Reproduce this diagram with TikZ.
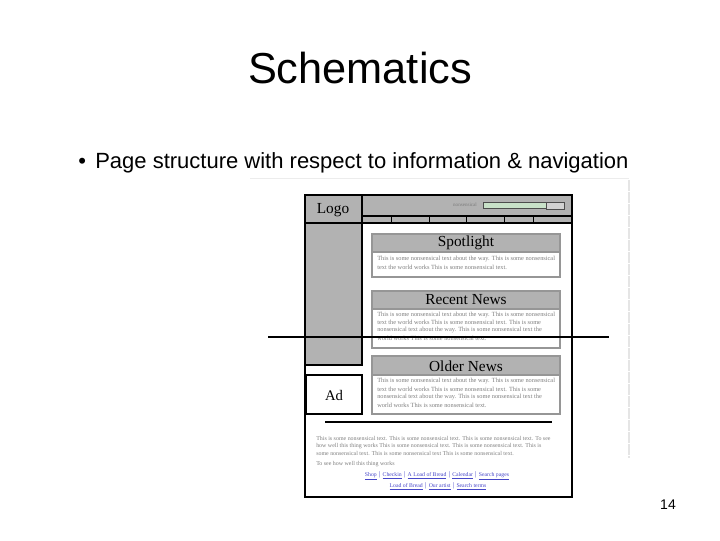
\documentclass[tikz,border=0pt]{standalone}
\usepackage{fontspec}
\setmainfont{Liberation Serif}
\newfontfamily\arialf{Liberation Sans}
\definecolor{hdrgray}{RGB}{178,178,178}
\definecolor{boxedge}{RGB}{150,150,150}
\definecolor{nons}{RGB}{125,125,125}
\definecolor{srchgreen}{RGB}{200,225,200}
\definecolor{linkblue}{RGB}{70,70,200}
\begin{document}
\begin{tikzpicture}[x=0.75pt,y=-0.75pt,
  frame/.style={draw=black,line width=1.4pt},
  thinblk/.style={draw=black,line width=0.9pt},
  sect/.style={draw=boxedge,line width=1pt},
  secthead/.style={fill=hdrgray,draw=boxedge,line width=1pt},
  headtxt/.style={font=\fontsize{11.5}{12}\selectfont,anchor=center,inner sep=0pt},
  nonstxt/.style={font=\fontsize{4.75}{5}\selectfont,text=nons,anchor=west,inner sep=0pt},
  foottxt/.style={font=\fontsize{4.45}{5}\selectfont,text=nons,anchor=west,inner sep=0pt},
  linktxt/.style={font=\fontsize{4.3}{5}\selectfont,text=linkblue,anchor=center,inner sep=0pt}]
\useasboundingbox (0,0) rectangle (720,540);
% title and bullet
\node[font=\arialf\fontsize{32.5}{36}\selectfont,inner sep=0pt] (title) at (360,68) {Schematics};
\node[font=\arialf\fontsize{16.5}{18}\selectfont,anchor=west,inner sep=0pt] (bullet) at (78,163) {\textbullet\hspace{7pt}Page structure with respect to information \& navigation};
\node[font=\arialf\fontsize{10.5}{12}\selectfont,inner sep=0pt] (pnum) at (668,505) {14};
% faint guides
\draw[gray!15,line width=0.5pt] (250,178) -- (629,178);
\draw[gray!20,line width=0.8pt,dash pattern=on 8pt off 1pt] (629,180) -- (629,458);
% header band
\fill[hdrgray] (305,195) rectangle (572,223);
\fill[hdrgray] (305,223) rectangle (362,365);
\draw[thinblk] (362,195) -- (362,365) -- (305,365);
\draw[thinblk] (305,223) -- (572,223);
\draw[thinblk] (362,216) -- (572,216);
\foreach \xx in {391,429,466,504,533} \draw[thinblk,line width=0.7pt] (\xx,216) -- (\xx,223);
\node[font=\fontsize{11.5}{12}\selectfont,inner sep=0pt] (logo) at (333,210) {Logo};
\node[font=\fontsize{3.8}{4}\selectfont,text=nons,inner sep=0pt] (srch) at (465,205) {nonsensical};
\draw[draw=black!70,fill=srchgreen,line width=0.5pt] (483,202) rectangle (546,208);
\draw[draw=black!70,fill=gray!35,line width=0.5pt] (546,202) rectangle (564,209);
% ad
\draw[thinblk] (306,375) rectangle (362,414);
\node[font=\fontsize{11}{12}\selectfont,inner sep=0pt] (ad) at (334,395) {Ad};
% spotlight
\draw[secthead] (372,234) rectangle (560,252);
\draw[sect] (372,252) rectangle (560,277);
\node[headtxt] (spot) at (466,243) {Spotlight};
\node[nonstxt] (sp1) at (377,259) {This is some nonsensical text about the way. This is some nonsensical};
\node[nonstxt] (sp2) at (377,267) {text the world works This is some nonsensical text.};
% recent news
\draw[secthead] (372,291) rectangle (560,309);
\draw[sect] (372,309) rectangle (560,348);
\node[headtxt] (recent) at (466,300) {Recent News};
\node[nonstxt] (rn1) at (377,315) {This is some nonsensical text about the way. This is some nonsensical};
\node[nonstxt] (rn2) at (377,322) {text the world works This is some nonsensical text. This is some};
\node[nonstxt] (rn3) at (377,330) {nonsensical text about the way. This is some nonsensical text the};
\node[nonstxt] (rn4) at (377,338) {world works This is some nonsensical text.};
% older news
\draw[secthead] (372,356) rectangle (560,375);
\draw[sect] (372,375) rectangle (560,414);
\node[headtxt] (older) at (466,366) {Older News};
\node[nonstxt] (on1) at (377,381) {This is some nonsensical text about the way. This is some nonsensical};
\node[nonstxt] (on2) at (377,389) {text the world works This is some nonsensical text. This is some};
\node[nonstxt] (on3) at (377,397) {nonsensical text about the way. This is some nonsensical text the};
\node[nonstxt] (on4) at (377,405) {world works This is some nonsensical text.};
% separator
\draw[thinblk] (325,422) -- (552,422);
% footer
\node[foottxt] (f1) at (316,438) {This is some nonsensical text. This is some nonsensical text. This is some nonsensical text. To see};
\node[foottxt] (f2) at (316,446) {how well this thing works This is some nonsensical text. This is some nonsensical text. This is};
\node[foottxt] (f3) at (316,453) {some nonsensical text. This is some nonsensical text This is some nonsensical text.};
\node[foottxt] (f4) at (316,464) {To see how well this thing works};
\node[linktxt] (l1) at (437,476) {\underline{Shop} $|$ \underline{Checkin} $|$ \underline{A Load of Bread} $|$ \underline{Calendar} $|$ \underline{Search pages}};
\node[linktxt] (l2) at (438,486) {\underline{Load of Bread} $|$ \underline{Our artist} $|$ \underline{Search terms}};
% outer frame
\draw[frame] (305,195) rectangle (572,497);
% overlay line
\draw[black,line width=0.9pt] (268,337) -- (609,337);
\end{tikzpicture}
\end{document}
